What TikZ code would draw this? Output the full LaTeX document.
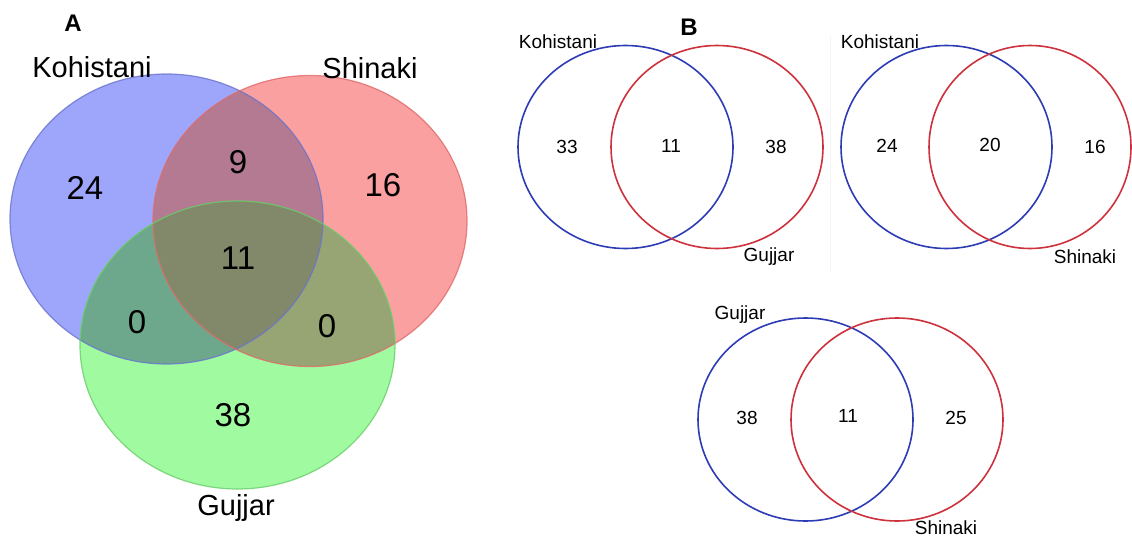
\documentclass[tikz,border=0pt]{standalone}
\usepackage{fontspec}
\setmainfont{Liberation Sans}
\definecolor{cB}{RGB}{157,166,250}
\definecolor{cR}{RGB}{250,160,160}
\definecolor{cG}{RGB}{160,250,160}
\definecolor{cBR}{RGB}{180,122,145}
\definecolor{cBG}{RGB}{110,168,140}
\definecolor{cRG}{RGB}{150,165,115}
\definecolor{cBRG}{RGB}{130,137,106}
\definecolor{lB}{RGB}{105,115,205}
\definecolor{lR}{RGB}{225,105,105}
\definecolor{lG}{RGB}{105,205,105}
\definecolor{vB}{RGB}{45,60,180}
\definecolor{vR}{RGB}{205,50,60}
\begin{document}
\begin{tikzpicture}[x=1pt,y=-1pt,
  biglab/.style={font=\fontsize{29}{34}\selectfont, inner sep=0pt},
  bignum/.style={font=\fontsize{33}{38}\selectfont, inner sep=0pt},
  smalllab/.style={font=\fontsize{19}{22}\selectfont, inner sep=0pt},
  panel/.style={font=\bfseries\fontsize{24}{27}\selectfont, inner sep=0pt},
  vring/.style={line width=1.6pt}]
\useasboundingbox (0,0) rectangle (1132,538);
% ---------- Panel A ----------
\def\EB{(166.5,219) ellipse [x radius=156.5, y radius=145]}
\def\ER{(310,221) ellipse [x radius=157, y radius=145.5]}
\def\EG{(237.5,345) ellipse [x radius=157.5, y radius=144]}
\fill[cB] \EB;
\fill[cR] \ER;
\fill[cG] \EG;
\begin{scope}\clip \EB; \fill[cBR] \ER; \fill[cBG] \EG;\end{scope}
\begin{scope}\clip \ER; \fill[cRG] \EG;\end{scope}
\begin{scope}\clip \EB; \clip \ER; \fill[cBRG] \EG;\end{scope}
\draw[lB, line width=1.2pt, opacity=0.8] \EB;
\draw[lR, line width=1.2pt, opacity=0.8] \ER;
\draw[lG, line width=1.2pt, opacity=0.8] \EG;
\node[panel] (A) at (73,23) {A};
\node[biglab] (kA) at (92,67) {Kohistani};
\node[biglab] (sA) at (370,68) {Shinaki};
\node[biglab] (gA) at (236,508) {Gujjar};
\node[bignum] (a24) at (85,188) {24};
\node[bignum] (a9) at (238,162) {9};
\node[bignum] (a16) at (383,185) {16};
\node[bignum] (a11) at (238,258) {11};
\node[bignum] (a0l) at (137,322) {0};
\node[bignum] (a0r) at (327,326) {0};
\node[bignum] (a38) at (233,415) {38};
% ---------- Panel B ----------
\draw[black!4, line width=0.8pt] (830,35) -- (830,272);
\node[panel] (B) at (689,27) {B};
% pair 1
\draw[vB, vring] (625.5,147) ellipse [x radius=107.5, y radius=101.5];
\draw[vR, vring] (717,147) ellipse [x radius=106, y radius=101.5];
\node[smalllab] (k1) at (558,42) {Kohistani};
\node[smalllab] (g1) at (769,257) {Gujjar};
\node[smalllab] (n33) at (567,147) {33};
\node[smalllab] (n11a) at (671,146) {11};
\node[smalllab] (n38a) at (776,147) {38};
% pair 2
\draw[vB, vring] (946.5,147) ellipse [x radius=105.5, y radius=101.5];
\draw[vR, vring] (1030,147) ellipse [x radius=101, y radius=101.5];
\node[smalllab] (k2) at (880,42) {Kohistani};
\node[smalllab] (s2) at (1085,257) {Shinaki};
\node[smalllab] (n24) at (887,146) {24};
\node[smalllab] (n20) at (990,145) {20};
\node[smalllab] (n16) at (1095,147) {16};
% pair 3
\draw[vB, vring] (805.5,419.5) ellipse [x radius=107.5, y radius=101.5];
\draw[vR, vring] (897,419.5) ellipse [x radius=106, y radius=101.5];
\node[smalllab] (g3) at (740,315) {Gujjar};
\node[smalllab] (s3) at (946,528) {Shinaki};
\node[smalllab] (n38b) at (747,418) {38};
\node[smalllab] (n11b) at (848,416) {11};
\node[smalllab] (n25) at (956,418) {25};
\end{tikzpicture}
\end{document}
